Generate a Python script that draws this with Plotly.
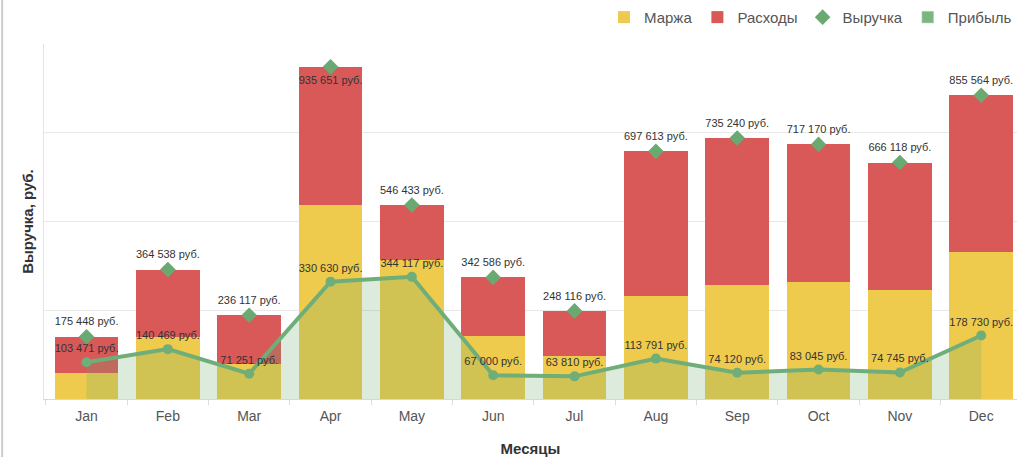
import plotly.graph_objects as go

months = ["Jan", "Feb", "Mar", "Apr", "May", "Jun", "Jul", "Aug", "Sep", "Oct", "Nov", "Dec"]
revenue = [175448, 364538, 236117, 935651, 546433, 342586, 248116, 697613, 735240, 717170, 666118, 855564]
margin = [74200, 175800, 98800, 545400, 390200, 178600, 122200, 290600, 321700, 328200, 307600, 412800]
expenses = [101200, 188700, 137300, 390300, 156200, 164000, 125900, 407000, 413500, 389000, 358500, 442800]
profit = [103471, 140469, 71251, 330630, 344117, 67000, 63810, 113791, 74120, 83045, 74745, 178730]


def rub(v):
    return f"{v:,}".replace(",", " ") + " руб."


FONT = "Liberation Sans, Arial, sans-serif"
YELLOW = "#EECB4C"
RED = "#D95858"
GREEN = "#6AAA72"

fig = go.Figure()
fig.add_trace(go.Bar(x=months, y=margin, name="Маржа", marker=dict(color=YELLOW, line=dict(width=0)),
                     width=0.78, hoverinfo="skip"))
fig.add_trace(go.Bar(x=months, y=expenses, name="Расходы", marker=dict(color=RED, line=dict(width=0)),
                     width=0.78, hoverinfo="skip"))

# profit area + line
fig.add_trace(go.Scatter(x=months, y=profit, mode="lines+markers+text", name="Прибыль", showlegend=False,
                         fill="tozeroy", fillcolor="rgba(110,170,110,0.23)",
                         line=dict(color="#6FAE78", width=4),
                         marker=dict(color="#6FAE78", size=10, symbol="circle"),
                         text=[rub(v) for v in profit], textposition="top center",
                         textfont=dict(family=FONT, size=11, color="#333333")))

# revenue diamonds
rev_pos = ["top center"] * len(revenue)
rev_pos[3] = "bottom center"
fig.add_trace(go.Scatter(x=months, y=revenue, mode="markers+text", name="Выручка",
                         marker=dict(color=GREEN, size=12, symbol="diamond"),
                         text=[rub(v) for v in revenue], textposition=rev_pos,
                         textfont=dict(family=FONT, size=11, color="#333333")))

# legend-only entry for profit (square swatch)
fig.add_trace(go.Bar(x=[None], y=[None], name="Прибыль", marker=dict(color="#7BB57F")))

fig.update_layout(
    width=1017, height=457,
    barmode="stack",
    plot_bgcolor="white", paper_bgcolor="white",
    margin=dict(l=44, r=0, t=44, b=58),
    font=dict(family=FONT, color="#555555"),
    showlegend=True,
    legend=dict(orientation="h", x=1.0, xanchor="right", y=1.075, yanchor="middle",
                font=dict(family=FONT, size=15, color="#555555"),
                traceorder="normal", itemwidth=30, bgcolor="rgba(0,0,0,0)"),
    xaxis=dict(range=[-0.523, 11.44], showgrid=False, tickson="boundaries", ticks="outside",
               ticklen=5, tickcolor="#dddddd", showline=True, linecolor="#d8d8d8",
               ticklabelstandoff=4,
               tickfont=dict(family=FONT, size=14, color="#555555"),
               title=dict(text="<b>Месяцы</b>", standoff=24,
                          font=dict(family=FONT, size=15, color="#333333"))),
    yaxis=dict(range=[0, 1000000], tickvals=[0, 250000, 500000, 750000, 1000000],
               showticklabels=False, showgrid=True, gridcolor="#e8e8e8", zeroline=False,
               showline=True, linecolor="#e4e4e4", mirror=False,
               title=dict(text="<b>Выручка, руб.</b>", standoff=5,
                          font=dict(family=FONT, size=15, color="#333333"))),
    shapes=[dict(type="line", xref="paper", yref="paper", x0=-0.043, x1=-0.043,
                 y0=-58 / 355, y1=1 + 44 / 355, line=dict(color="#cccccc", width=2))],
)
fig.update_xaxes(automargin=False)
fig.update_yaxes(automargin=False)

fig.write_html("out.html", config={"displayModeBar": False},
               post_script="document.body.style.margin='0';document.body.style.overflow='hidden';")
